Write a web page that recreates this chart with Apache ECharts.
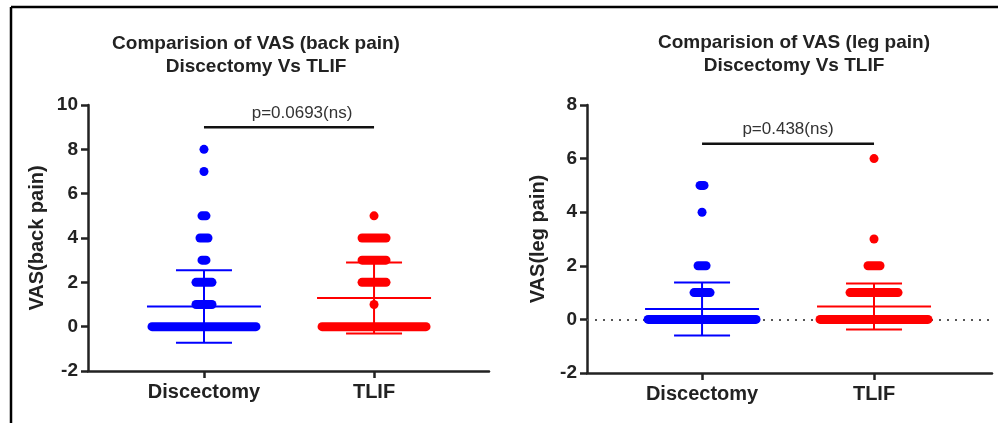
<!DOCTYPE html>
<html>
<head>
<meta charset="utf-8">
<script src="https://cdn.jsdelivr.net/npm/echarts@6/dist/echarts.min.js"></script>
<style>
  html, body { margin: 0; padding: 0; background: #fff; }
  #chart { width: 998px; height: 423px; }
</style>
</head>
<body>
<div id="chart"></div>
<script>
const chart = echarts.init(document.getElementById('chart'));

// groups on the x axis (drawn at x = 1 and x = 2)
const groups = ['Discectomy', 'TLIF'];
const groupColors = ['#0000ff', '#ff0000'];

// VAS back pain: score values and how many patients had each
const backDiscValues = [0, 1, 2, 3, 4, 5, 7, 8];
const backDiscCounts = [27, 5, 5, 2, 3, 2, 1, 1];
const backTlifValues = [0, 1, 2, 3, 4, 5];
const backTlifCounts = [27, 1, 7, 7, 7, 1];
const backMean = [0.91, 1.29];
const backSD = [1.64, 1.60];

// VAS leg pain
const legDiscValues = [0, 1, 2, 4, 5];
const legDiscCounts = [28, 5, 3, 1, 2];
const legTlifValues = [0, 1, 2, 3, 6];
const legTlifCounts = [28, 13, 4, 1, 1];
const legMean = [0.39, 0.48];
const legSD = [0.99, 0.86];

const pBack = 'p=0.0693(ns)';
const pLeg = 'p=0.438(ns)';

const DOT = 9;     // dot diameter px
const STEP = 4;    // horizontal spread per extra dot
const fontFam = '"Liberation Sans", Arial, sans-serif';
const ink = '#222';

function bandData(g, values, counts) {
	return values.map((v, i) => [g, v, counts[i]]);
}

function renderBand(params, api) {
	const c = api.coord([api.value(0), api.value(1)]);
	const n = api.value(2);
	const w = DOT + (n - 1) * STEP;
	return {
		type: 'rect',
		shape: { x: c[0] - w / 2, y: c[1] - DOT / 2, width: w, height: DOT, r: DOT / 2 },
		style: { fill: groupColors[api.value(0) - 1] }
	};
}

function renderErr(params, api) {
	const g = api.value(0);
	const m = api.value(1);
	const sd = api.value(2);
	const cm = api.coord([g, m]);
	const top = api.coord([g, m + sd]);
	const bot = api.coord([g, m - sd]);
	const col = groupColors[g - 1];
	const st = { stroke: col, lineWidth: 2 };
	const half = 57, cap = 28;
	return {
		type: 'group',
		children: [
			{ type: 'line', shape: { x1: cm[0] - half, y1: cm[1], x2: cm[0] + half, y2: cm[1] }, style: st },
			{ type: 'line', shape: { x1: cm[0], y1: top[1], x2: cm[0], y2: bot[1] }, style: st },
			{ type: 'line', shape: { x1: cm[0] - cap, y1: top[1], x2: cm[0] + cap, y2: top[1] }, style: st },
			{ type: 'line', shape: { x1: cm[0] - cap, y1: bot[1], x2: cm[0] + cap, y2: bot[1] }, style: st }
		]
	};
}

function xAxisFor(idx, min, max) {
	return {
		type: 'value', gridIndex: idx, min: min, max: max,
		splitLine: { show: false },
		axisLine: { onZero: false, lineStyle: { color: ink, width: 2.5 } },
		axisTick: { customValues: [1, 2], length: 7, lineStyle: { color: ink, width: 2.5 } },
		axisLabel: {
			customValues: [1, 2], margin: 11,
			formatter: v => groups[Math.round(v) - 1] || '',
			color: ink, fontSize: 20, fontWeight: 'bold', fontFamily: fontFam
		}
	};
}

function yAxisFor(idx, max, name, gap) {
	return {
		type: 'value', gridIndex: idx, min: -2, max: max, interval: 2,
		name: name, nameLocation: 'middle', nameGap: gap,
		nameTextStyle: { color: ink, fontSize: 20, fontWeight: 'bold', fontFamily: fontFam },
		splitLine: { show: false },
		axisLine: { show: true, onZero: false, lineStyle: { color: ink, width: 2.5 } },
		axisTick: { show: true, length: 7, lineStyle: { color: ink, width: 2.5 } },
		axisLabel: { margin: 10, color: ink, fontSize: 19, fontWeight: 'bold', fontFamily: fontFam }
	};
}

function seriesFor(idx, discV, discC, tlifV, tlifC, mean, sd, pY, zeroLine) {
	const list = [
		{
			type: 'custom', xAxisIndex: idx, yAxisIndex: idx, z: 2,
			renderItem: renderErr,
			data: [[1, mean[0], sd[0]], [2, mean[1], sd[1]]]
		},
		{
			type: 'custom', xAxisIndex: idx, yAxisIndex: idx, z: 3,
			renderItem: renderBand,
			data: bandData(1, discV, discC).concat(bandData(2, tlifV, tlifC))
		},
		{
			type: 'line', xAxisIndex: idx, yAxisIndex: idx, z: 3,
			symbol: 'none', silent: true,
			lineStyle: { color: '#111', width: 2.5 },
			data: [[1, pY], [2, pY]]
		}
	];
	if (zeroLine) {
		list[0].markLine = {
			silent: true, symbol: 'none', z: 1, label: { show: false },
			lineStyle: { color: '#555', width: 2, type: [2, 6] },
			data: [{ yAxis: 0 }]
		};
	}
	return list;
}

const option = {
	animation: false,
	backgroundColor: '#fff',
	title: [
		{
			text: 'Comparision of VAS (back pain)\nDiscectomy Vs TLIF',
			left: 251, top: 27, textAlign: 'center',
			textStyle: { color: ink, fontSize: 19, fontWeight: 'bold', fontFamily: fontFam, lineHeight: 23 }
		},
		{
			text: 'Comparision of VAS (leg pain)\nDiscectomy Vs TLIF',
			left: 789, top: 26, textAlign: 'center',
			textStyle: { color: ink, fontSize: 19, fontWeight: 'bold', fontFamily: fontFam, lineHeight: 23 }
		}
	],
	grid: [
		{ left: 88, right: 509, top: 105, bottom: 52 },
		{ left: 587, right: 6, top: 105, bottom: 50 }
	],
	xAxis: [xAxisFor(0, 0.318, 2.676), xAxisFor(1, 0.331, 2.686)],
	yAxis: [yAxisFor(0, 10, 'VAS(back pain)', 41), yAxisFor(1, 8, 'VAS(leg pain)', 39)],
	series: seriesFor(0, backDiscValues, backDiscCounts, backTlifValues, backTlifCounts, backMean, backSD, 9, false)
		.concat(seriesFor(1, legDiscValues, legDiscCounts, legTlifValues, legTlifCounts, legMean, legSD, 6.55, true)),
	graphic: [
		{ type: 'line', shape: { x1: 11, y1: 7, x2: 998, y2: 7 }, style: { stroke: '#000', lineWidth: 2.5 } },
		{ type: 'line', shape: { x1: 11, y1: 7, x2: 11, y2: 423 }, style: { stroke: '#000', lineWidth: 2.5 } },
		{ type: 'text', x: 302, y: 113, style: { text: pBack, fill: '#333', fontSize: 17, fontFamily: fontFam, align: 'center', verticalAlign: 'middle' } },
		{ type: 'text', x: 788, y: 129, style: { text: pLeg, fill: '#333', fontSize: 17, fontFamily: fontFam, align: 'center', verticalAlign: 'middle' } }
	]
};

chart.setOption(option);

window.addEventListener('resize', () => {
	chart.resize();
});
</script>
</body>
</html>
